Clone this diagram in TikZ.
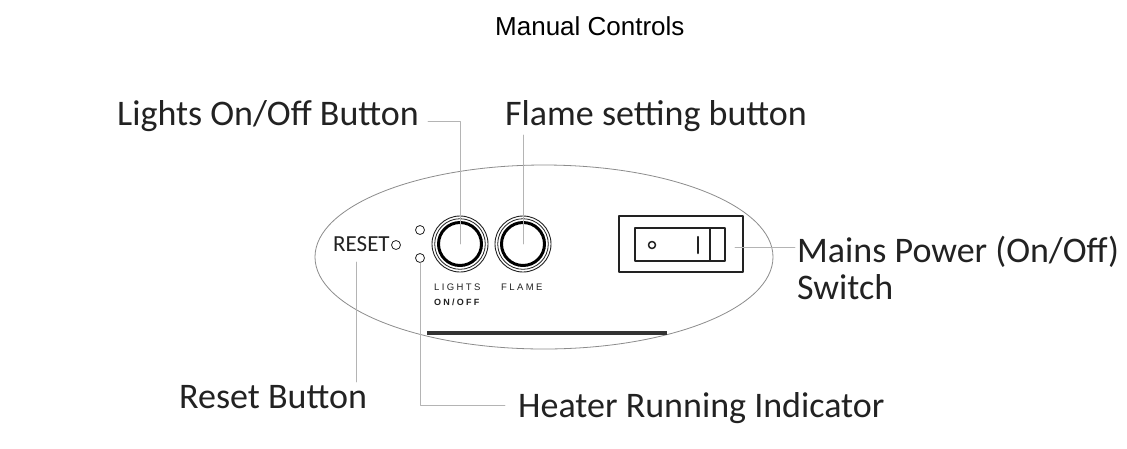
\documentclass[tikz,border=0pt]{standalone}
\usepackage{fontspec}
\setmainfont{Carlito}
\newfontfamily\titlefont{Liberation Sans}
\newfontfamily\panelfont[LetterSpace=25]{Liberation Sans}
\usetikzlibrary{positioning}
\definecolor{ctrlInk}{HTML}{222222}
\definecolor{ctrlLead}{HTML}{B4B4B4}
\definecolor{ctrlShell}{HTML}{8C8C8C}

\begin{document}
\begin{tikzpicture}[x=1pt,y=-1pt,line cap=round,line join=round]
\path[fill=white] (0,0) rectangle (1127,448);
\tikzset{leader/.style={draw=ctrlLead,line width=0.7pt},callout/.style={anchor=base west,inner sep=0pt,text=ctrlInk,font=\fontsize{36}{40}\selectfont},paneltxt/.style={anchor=base west,inner sep=0pt,text=ctrlInk,font=\panelfont\fontsize{9.5}{11}\selectfont},led/.style={circle,draw=ctrlInk,line width=0.8pt,minimum size=9pt,inner sep=0pt},btn/.style={circle,draw=ctrlInk,line width=0.9pt,minimum size=56pt,inner sep=0pt}}
\node[anchor=base west,inner sep=0pt,font=\titlefont\fontsize{26}{30}\selectfont] (title) at (495,35) {Manual Controls};
% housing
\draw[draw=ctrlShell,line width=0.8pt] (544,257) ellipse[x radius=229pt,y radius=92pt];
\draw[draw=black!80,line width=3.5pt,line cap=butt] (427,333) -- (667,333);
% buttons
\node[btn] (lightsbtn) at (460,244) {};
\node[btn] (flamebtn) at (523,244) {};
\foreach \b in {lightsbtn,flamebtn} {\draw[draw=ctrlInk,line width=0.8pt] (\b.center) circle[radius=25.3pt]; \draw[draw=black,line width=3pt] (\b.center) circle[radius=21.5pt];}
\node[led] (ledtop) at (420,230) {}; \node[led] (ledbot) at (420,258) {};
\node[led] (resetled) at (396,245) {};
\node[anchor=base west,inner sep=0pt,text=ctrlInk,font=\fontsize{23}{26}\selectfont] (resettxt) at (333,251) {RESET};
\node[paneltxt] (lightstxt) at (434,290) {LIGHTS};
\node[paneltxt,font=\panelfont\bfseries\fontsize{9}{11}\selectfont] (onofftxt) at (434,305) {ON/OFF};
\node[paneltxt] (flametxt) at (501,290) {FLAME};
% rocker switch
\node[draw=ctrlInk,line width=1.1pt,minimum width=124pt,minimum height=56pt,inner sep=0pt] (switchbox) at (681,244) {};
\node[draw=ctrlInk,line width=1.5pt,minimum width=90pt,minimum height=33pt,inner sep=0pt] (rocker) at (680,244.5) {};
\draw[draw=ctrlInk,line width=1.5pt] (710,228) -- (710,261);
\draw[draw=ctrlInk,line width=1.5pt] (652,245) circle[radius=3.5pt];
\draw[draw=ctrlInk,line width=2.5pt] (698,237) -- (698,253);
% callouts
\node[callout] (lightslbl) at (117,125) {Lights On/Off Button};
\node[callout] (flamelbl) at (505,125) {Flame setting button};
\node[callout] (mainslbl) at (797,262) {Mains Power (On/Off)};
\node[callout] (switchlbl) at (797,299) {Switch};
\node[callout] (resetlbl) at (179,408) {Reset Button};
\node[callout] (heaterlbl) at (518,417) {Heater Running Indicator};
\coordinate (lightsend) at (428,121);
\coordinate (flameend) at (523,135);
\coordinate (mainsstart) at (735,247); \coordinate (mainsend) at (795,247);
\coordinate (resettop) at (356,262); \coordinate (resetend) at (356,382);
\coordinate (heaterend) at (505,405);
\draw[leader] (lightsend) -| (lightsbtn.center);
\draw[leader] (flameend) -- (flamebtn.center);
\draw[leader] (mainsstart) -- (mainsend);
\draw[leader] (resettop) -- (resetend);
\draw[leader] (ledbot.south) |- (heaterend);
\end{tikzpicture}
\end{document}
